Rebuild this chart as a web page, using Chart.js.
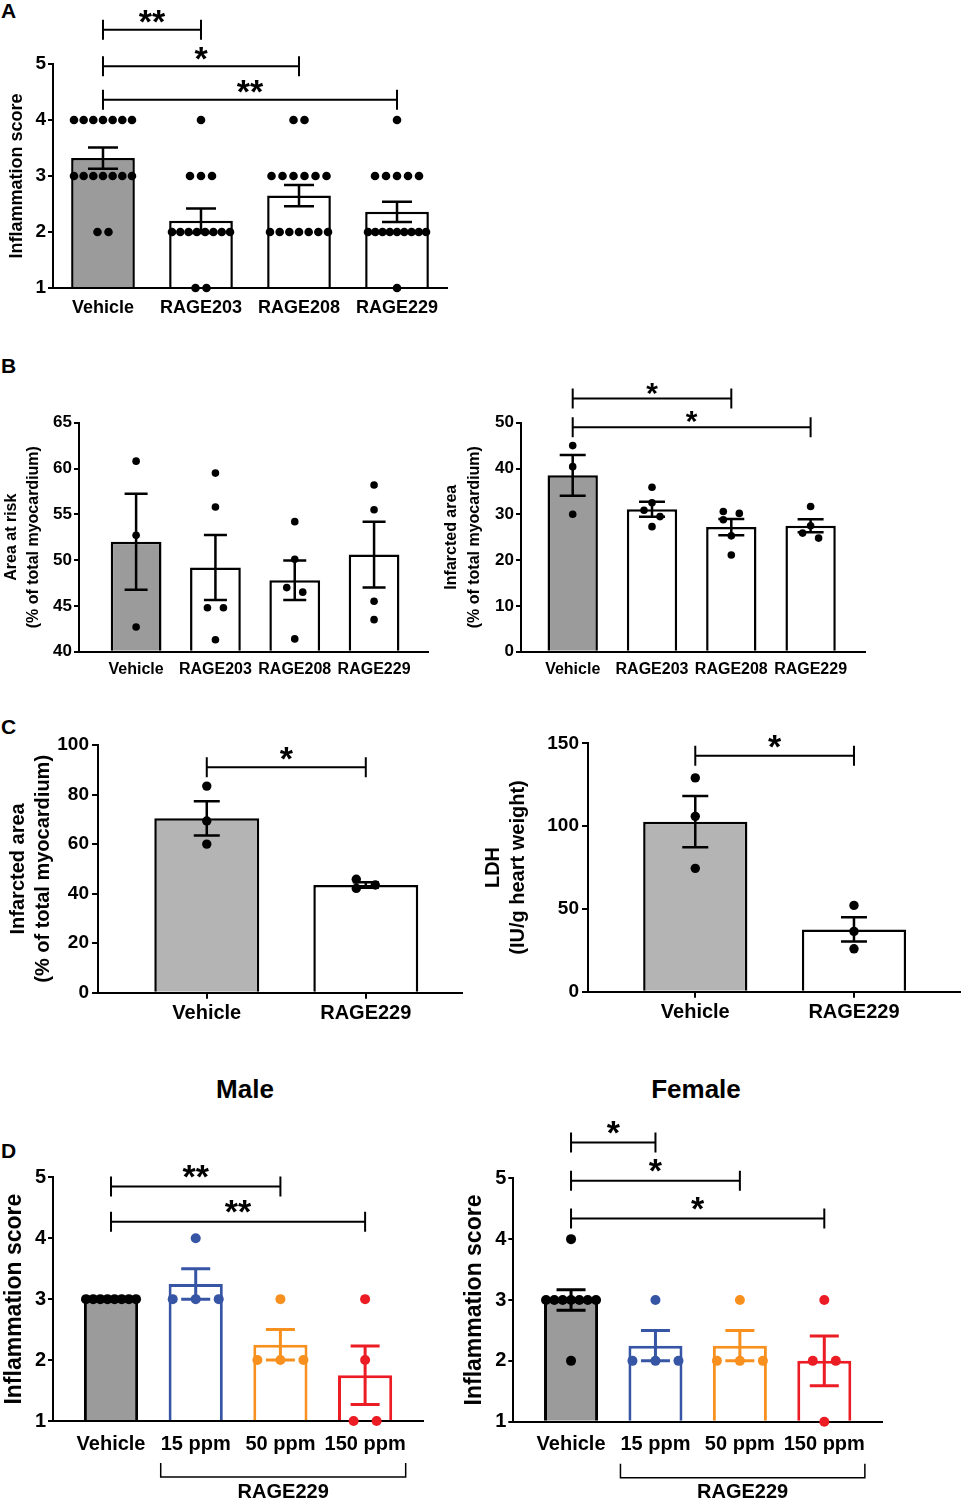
<!DOCTYPE html>
<html lang="en">
<head>
<meta charset="UTF-8">
<title>RAGE inhibitors - inflammation and infarct size</title>
<script src="https://cdn.jsdelivr.net/npm/chart.js"></script>
<style>
  body { margin: 0; background: #fff; font-family: "Liberation Sans", Arial, sans-serif; }
  #page { position: relative; width: 965px; height: 1500px; }
  #page canvas { position: absolute; }
  .txt { position: absolute; font-weight: bold; color: #000; line-height: 1; white-space: nowrap; }
</style>
</head>
<body>
<div id="page">
  <div class="txt" style="left:1px;top:0px;font-size:21px">A</div>
  <div class="txt" style="left:1px;top:355px;font-size:21px">B</div>
  <div class="txt" style="left:1px;top:716px;font-size:21px">C</div>
  <div class="txt" style="left:1px;top:1140px;font-size:21px">D</div>
  <div class="txt" style="left:145px;width:200px;text-align:center;top:1076px;font-size:26px">Male</div>
  <div class="txt" style="left:596px;width:200px;text-align:center;top:1076px;font-size:26px">Female</div>
</div>
<script>
// ---- data ----
const groups4 = ['Vehicle', 'RAGE203', 'RAGE208', 'RAGE229'];
const groups2 = ['Vehicle', 'RAGE229'];
const doseGroups = ['Vehicle', '15 ppm', '50 ppm', '150 ppm'];

// A - inflammation score
const inflamMean = [3.32, 2.20, 2.65, 2.36];
const inflamSem = [0.19, 0.22, 0.19, 0.18];
const inflamDots = [
  [4, 4, 4, 4, 4, 4, 4, 3, 3, 3, 3, 3, 3, 3, 2, 2],
  [4, 3, 3, 3, 2, 2, 2, 2, 2, 2, 2, 2, 1, 1],
  [4, 4, 3, 3, 3, 3, 3, 3, 2, 2, 2, 2, 2, 2, 2],
  [4, 3, 3, 3, 3, 3, 2, 2, 2, 2, 2, 2, 2, 2, 2, 1]
];
const inflamSig = [[0, 1, '**'], [0, 2, '*'], [0, 3, '**']];

// B - area at risk / infarcted area
const riskMean = [52.0, 49.2, 47.8, 50.6];
const riskSem = [5.25, 3.55, 2.15, 3.6];
const riskDots = [[60.8, 52.7, 42.7], [59.5, 55.8, 44.8, 44.8, 41.3], [54.2, 50.1, 47.0, 46.5, 41.4], [58.2, 55.5, 45.5, 43.5]];
const infarctMean = [38.5, 31.1, 27.2, 27.5];
const infarctSem = [4.45, 1.65, 1.75, 1.4];
const infarctDots = [[45.0, 40.4, 30.0], [35.9, 32.5, 30.9, 29.5, 27.3], [30.6, 30.2, 28.8, 25.3, 21.1], [31.7, 27.5, 25.9, 24.8]];
const infarctSig = [[0, 2, '*'], [0, 3, '*']];

// C - RAGE229 infarct and LDH
const infarct229Mean = [70.4, 43.5];
const infarct229Sem = [6.9, 1.1];
const infarct229Dots = [[83.4, 69.3, 60.0], [45.8, 43.5, 42.1]];
const ldhMean = [102.7, 37.6];
const ldhSem = [15.5, 7.35];
const ldhDots = [[129.1, 105.9, 74.5], [52.1, 36.4, 25.9]];
const sigC = [[0, 1, '*']];

// D - dose response by sex
const maleMean = [3.0, 3.25, 2.25, 1.75];
const maleSem = [0, 0.25, 0.25, 0.48];
const maleDots = [[3, 3, 3, 3, 3, 3, 3, 3], [4, 3, 3, 3], [3, 2, 2, 2], [3, 2, 1, 1]];
const maleSig = [[0, 2, '**'], [0, 3, '**']];
const femaleMean = [3.0, 2.25, 2.25, 2.0];
const femaleSem = [0.17, 0.25, 0.25, 0.41];
const femaleDots = [[4, 3, 3, 3, 3, 3, 3, 3, 2], [3, 2, 2, 2], [3, 2, 2, 2], [3, 2, 2, 1]];
const femaleSig = [[0, 1, '*'], [0, 2, '*'], [0, 3, '*']];

// ---- styling ----
const FONT = '"Liberation Sans", Arial, Helvetica, sans-serif';
Chart.defaults.font.family = FONT;
Chart.defaults.color = '#000';

const GREY = '#9b9b9b';
const GREY_C = '#b4b4b4';
const BLUE = '#3755a5';
const ORANGE = '#f7901e';
const RED = '#ec1c24';
const K4 = ['#000', '#000', '#000', '#000'];
const doseColors = ['#000', BLUE, ORANGE, RED];

// beeswarm-ish spread of dots that would overlap, in pixels
function spread(els, r, step, span) {
  const pts = els.map(el => ({ el, y: el.y, off: 0 })).sort((a, b) => a.y - b.y);
  const placed = [];
  pts.forEach(p => {
    for (let k = 0; k < 80; k++) {
      const off = (k % 2 ? 1 : -1) * Math.ceil(k / 2) * step + 0;
      const hit = placed.some(q => Math.abs(q.y - p.y) < 2 * r * 0.95 && Math.abs(q.off - off) < step * 0.99);
      if (!hit) { p.off = off; placed.push(p); break; }
    }
  });
  // recentre each cluster of touching dots, squeeze wide rows
  let i = 0;
  while (i < pts.length) {
    let j = i;
    while (j + 1 < pts.length && pts[j + 1].y - pts[j].y < 2 * r * 0.95) j++;
    const cl = pts.slice(i, j + 1);
    const lo = Math.min(...cl.map(p => p.off)), hi = Math.max(...cl.map(p => p.off));
    const sc = hi - lo > span ? span / (hi - lo) : 1;
    cl.forEach(p => { p.el.x += (p.off - (lo + hi) / 2) * sc; });
    i = j + 1;
  }
}

function figPlugin(p) {
  return {
    id: 'fig',
    afterDatasetsUpdate(chart) {
      const meta = chart.getDatasetMeta(0);
      const pts = chart.data.datasets[0].data;
      const byGroup = p.groups.map(() => []);
      meta.data.forEach((el, k) => byGroup[pts[k].x].push(el));
      byGroup.forEach(els => spread(els, p.dotR, p.dotStep, p.dotSpan));
    },
    afterDatasetsDraw(chart) {
      const { ctx } = chart, xs = chart.scales.x, ys = chart.scales.y;
      ctx.save();
      // error bars (SEM)
      p.means.forEach((m, i) => {
        const s = p.sems[i];
        if (!s) return;
        const x = xs.getPixelForValue(i), h = p.capW / 2;
        const y1 = ys.getPixelForValue(m - s), y2 = ys.getPixelForValue(m + s);
        ctx.strokeStyle = p.edge[i];
        ctx.lineWidth = p.errW;
        ctx.beginPath();
        ctx.moveTo(x, y1); ctx.lineTo(x, y2);
        ctx.moveTo(x - h, y1); ctx.lineTo(x + h, y1);
        ctx.moveTo(x - h, y2); ctx.lineTo(x + h, y2);
        ctx.stroke();
      });
      // significance brackets
      ctx.strokeStyle = '#000';
      ctx.fillStyle = '#000';
      ctx.lineWidth = 2;
      ctx.font = 'bold ' + p.starSize + 'px ' + FONT;
      ctx.textAlign = 'center';
      ctx.textBaseline = 'alphabetic';
      p.sig.forEach(([a, b, label], k) => {
        const y = ys.getPixelForValue(p.sigLevels[k]);
        const x1 = xs.getPixelForValue(a), x2 = xs.getPixelForValue(b);
        ctx.beginPath();
        ctx.moveTo(x1, y); ctx.lineTo(x2, y);
        ctx.moveTo(x1, y - 10); ctx.lineTo(x1, y + 10);
        ctx.moveTo(x2, y - 10); ctx.lineTo(x2, y + 10);
        ctx.stroke();
        ctx.fillText(label, (x1 + x2) / 2, y - p.starGap + 0.57 * p.starSize);
      });
      ctx.restore();
    },
    afterDraw(chart) {
      if (!p.span) return;
      const { ctx } = chart, xs = chart.scales.x;
      const [a, b, label] = p.span;
      ctx.save();
      ctx.font = 'bold ' + p.labelFont + 'px ' + FONT;
      const l = xs.getPixelForValue(a) - ctx.measureText(p.groups[a]).width / 2;
      const r = xs.getPixelForValue(b) + ctx.measureText(p.groups[b]).width / 2;
      const y = xs.top + 56;
      ctx.strokeStyle = '#000';
      ctx.lineWidth = 1.5;
      ctx.beginPath();
      ctx.moveTo(l, y - 14); ctx.lineTo(l, y); ctx.lineTo(r, y); ctx.lineTo(r, y - 14);
      ctx.stroke();
      ctx.fillStyle = '#000';
      ctx.textAlign = 'center';
      ctx.textBaseline = 'middle';
      ctx.fillText(label, (l + r) / 2, xs.top + 71);
      ctx.restore();
    }
  };
}

function panel(p) {
  const { box, area } = p;
  const cv = document.createElement('canvas');
  cv.width = box.w;
  cv.height = box.h;
  cv.style.left = box.x + 'px';
  cv.style.top = box.y + 'px';
  document.getElementById('page').appendChild(cv);

  const yWidth = area.l - box.x;
  const xHeight = box.y + box.h - area.b;

  return new Chart(cv, {
    type: 'bar',
    data: {
      datasets: [
        {
          type: 'scatter',
          data: p.dots.flatMap((vs, i) => vs.map(v => ({ x: i, y: v }))),
          pointRadius: p.dotR,
          pointHoverRadius: p.dotR,
          pointBackgroundColor: p.dots.flatMap((vs, i) => vs.map(() => p.dotColor[i])),
          pointBorderWidth: 0,
          clip: false,
          order: 1
        },
        {
          type: 'bar',
          data: p.means.map((m, i) => ({ x: i, y: m })),
          backgroundColor: p.fill,
          borderColor: p.edge,
          borderWidth: p.lw,
          base: p.yMin,
          categoryPercentage: 1,
          barPercentage: p.barFrac,
          order: 2
        }
      ]
    },
    options: {
      responsive: false,
      devicePixelRatio: 1,
      animation: false,
      events: [],
      layout: { padding: { left: 0, bottom: 0, top: area.t - box.y, right: box.x + box.w - area.r } },
      plugins: { legend: { display: false }, tooltip: { enabled: false } },
      scales: {
        x: {
          type: 'linear',
          offset: false,
          min: p.xMin,
          max: p.xMax,
          z: 1,
          afterBuildTicks: s => { s.ticks = p.groups.map((g, i) => ({ value: i })); },
          afterFit: s => { s.height = xHeight; },
          ticks: {
            callback: v => p.groups[v],
            autoSkip: false,
            maxRotation: 0,
            color: '#000',
            padding: p.xPad,
            font: { size: p.labelFont, weight: 'bold' }
          },
          grid: { display: p.xTicks, offset: false, drawOnChartArea: false, drawTicks: p.xTicks, tickLength: 6, color: '#000', lineWidth: 2 },
          border: { color: '#000', width: 2 }
        },
        y: {
          type: 'linear',
          min: p.yMin,
          max: p.yMax,
          afterFit: s => { s.width = yWidth; },
          ticks: {
            stepSize: p.yStep,
            color: '#000',
            padding: p.yPad,
            font: { size: p.tickFont, weight: 'bold' }
          },
          grid: { drawOnChartArea: false, tickLength: p.yTickLen, color: '#000', lineWidth: 2 },
          border: { color: '#000', width: 2 },
          title: {
            display: true,
            text: p.title,
            color: '#000',
            padding: { top: p.titlePad, bottom: 0 },
            font: { size: p.titleFont, weight: 'bold', lineHeight: p.titleLH }
          }
        }
      }
    },
    plugins: [figPlugin(p)]
  });
}

// ---- panels ----
panel({
  box: { x: 0, y: 0, w: 460, h: 330 }, area: { l: 53, t: 64, r: 447, b: 288 },
  xMin: -0.51, xMax: 3.51, yMin: 1, yMax: 5, yStep: 1,
  groups: groups4, means: inflamMean, sems: inflamSem, dots: inflamDots,
  sig: inflamSig, sigLevels: [5.61, 4.96, 4.36],
  fill: [GREY, '#fff', '#fff', '#fff'], edge: K4, dotColor: K4,
  lw: 2.5, errW: 2.5, capW: 30, barFrac: 0.65, dotR: 4.3, dotStep: 11, dotSpan: 58,
  tickFont: 19, labelFont: 18, titleFont: 18, titleLH: 1.2, titlePad: 6,
  title: 'Inflammation score', yTickLen: 5, yPad: 2, xTicks: false, xPad: 9,
  starSize: 34, starGap: 16
});

panel({
  box: { x: 0, y: 380, w: 440, h: 310 }, area: { l: 79, t: 422.7, r: 428, b: 651.7 },
  xMin: -0.72, xMax: 3.68, yMin: 40, yMax: 65, yStep: 5,
  groups: groups4, means: riskMean, sems: riskSem, dots: riskDots,
  sig: [], sigLevels: [],
  fill: [GREY, '#fff', '#fff', '#fff'], edge: K4, dotColor: K4,
  lw: 2.5, errW: 2.5, capW: 23, barFrac: 0.64, dotR: 3.8, dotStep: 16, dotSpan: 40,
  tickFont: 17, labelFont: 16, titleFont: 16, titleLH: 1.375, titlePad: 1,
  title: ['Area at risk', '(% of total myocardium)'], yTickLen: 5, yPad: 2, xTicks: false, xPad: 8,
  starSize: 30, starGap: 13
});

panel({
  box: { x: 440, y: 370, w: 440, h: 320 }, area: { l: 521, t: 422.7, r: 865, b: 651.7 },
  xMin: -0.652, xMax: 3.686, yMin: 0, yMax: 50, yStep: 10,
  groups: groups4, means: infarctMean, sems: infarctSem, dots: infarctDots,
  sig: infarctSig, sigLevels: [55.3, 49.0],
  fill: [GREY, '#fff', '#fff', '#fff'], edge: K4, dotColor: K4,
  lw: 2.5, errW: 2.5, capW: 26, barFrac: 0.635, dotR: 3.8, dotStep: 16, dotSpan: 40,
  tickFont: 17, labelFont: 16, titleFont: 16, titleLH: 1.45, titlePad: 0,
  title: ['Infarcted area', '(% of total myocardium)'], yTickLen: 5, yPad: 2, xTicks: false, xPad: 8,
  starSize: 30, starGap: 13
});

panel({
  box: { x: 0, y: 730, w: 470, h: 300 }, area: { l: 98, t: 745, r: 462, b: 992.7 },
  xMin: -0.684, xMax: 1.605, yMin: 0, yMax: 100, yStep: 20,
  groups: groups2, means: infarct229Mean, sems: infarct229Sem, dots: infarct229Dots,
  sig: sigC, sigLevels: [91],
  fill: [GREY_C, '#fff'], edge: K4, dotColor: K4,
  lw: 2.5, errW: 2.5, capW: 26, barFrac: 0.66, dotR: 4.7, dotStep: 19, dotSpan: 60,
  tickFont: 19, labelFont: 20, titleFont: 20, titleLH: 1.25, titlePad: 5.5,
  title: ['Infarcted area', '(% of total myocardium)'], yTickLen: 6, yPad: 3, xTicks: true, xPad: 3,
  starSize: 34, starGap: 17
});

panel({
  box: { x: 470, y: 725, w: 495, h: 305 }, area: { l: 588, t: 743.3, r: 962.7, b: 991.7 },
  xMin: -0.676, xMax: 1.67, yMin: 0, yMax: 150, yStep: 50,
  groups: groups2, means: ldhMean, sems: ldhSem, dots: ldhDots,
  sig: sigC, sigLevels: [142.5],
  fill: [GREY_C, '#fff'], edge: K4, dotColor: K4,
  lw: 2.5, errW: 2.5, capW: 26, barFrac: 0.657, dotR: 4.7, dotStep: 19, dotSpan: 60,
  tickFont: 19, labelFont: 20, titleFont: 20, titleLH: 1.25, titlePad: 10.5,
  title: ['LDH', '(IU/g heart weight)'], yTickLen: 6, yPad: 3, xTicks: true, xPad: 3,
  starSize: 34, starGap: 17
});

panel({
  box: { x: 0, y: 1100, w: 460, h: 400 }, area: { l: 53, t: 1177.3, r: 422.7, b: 1421 },
  xMin: -0.685, xMax: 3.68, yMin: 1, yMax: 5, yStep: 1,
  groups: doseGroups, means: maleMean, sems: maleSem, dots: maleDots,
  sig: maleSig, sigLevels: [4.85, 4.27], span: [1, 3, 'RAGE229'],
  fill: [GREY, '#fff', '#fff', '#fff'], edge: doseColors, dotColor: doseColors,
  lw: 3, errW: 3, capW: 29, barFrac: 0.64, dotR: 5, dotStep: 23, dotSpan: 50,
  tickFont: 20, labelFont: 20, titleFont: 23, titleLH: 1.2, titlePad: 1,
  title: 'Inflammation score', yTickLen: 5, yPad: 2, xTicks: false, xPad: 11,
  starSize: 34, starGap: 18
});

panel({
  box: { x: 460, y: 1100, w: 505, h: 400 }, area: { l: 513.3, t: 1178.3, r: 881.7, b: 1421.7 },
  xMin: -0.684, xMax: 3.68, yMin: 1, yMax: 5, yStep: 1,
  groups: doseGroups, means: femaleMean, sems: femaleSem, dots: femaleDots,
  sig: femaleSig, sigLevels: [5.59, 4.96, 4.34], span: [1, 3, 'RAGE229'],
  fill: [GREY, '#fff', '#fff', '#fff'], edge: doseColors, dotColor: doseColors,
  lw: 3, errW: 3, capW: 29, barFrac: 0.64, dotR: 5, dotStep: 23, dotSpan: 50,
  tickFont: 20, labelFont: 20, titleFont: 23, titleLH: 1.2, titlePad: 1,
  title: 'Inflammation score', yTickLen: 5, yPad: 2, xTicks: false, xPad: 11,
  starSize: 34, starGap: 18
});
</script>
</body>
</html>
